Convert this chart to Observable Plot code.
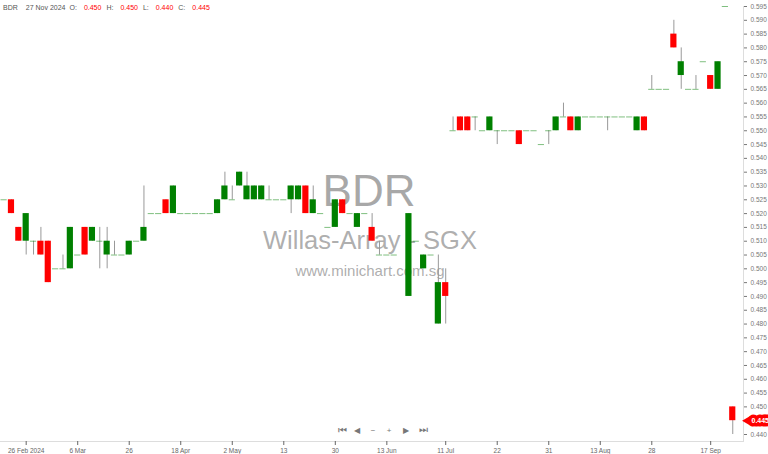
<!DOCTYPE html>
<html><head><meta charset="utf-8">
<script src="https://cdn.jsdelivr.net/npm/d3@7"></script>
<script src="https://cdn.jsdelivr.net/npm/@observablehq/plot@0.6"></script>
<style>
body{margin:0;background:#fff;}
#wrap{position:relative;width:768px;height:454px;overflow:hidden;font-family:"Liberation Sans",Arial,sans-serif;}
#hdr{position:absolute;left:3px;top:4px;font-size:7px;color:#555;white-space:nowrap;line-height:8px;}
#hdr span{margin-right:4px;}
#hdr .v{color:#f00;margin-right:5px;}
#hdr .k{margin-right:7px;}
#hdr .s{margin-right:8px;}
</style></head><body>
<div id="wrap"><div id="chart"></div><div id="hdr"></div></div>
<script>
// ---- data (bar index 0..99) ----
const symbol = "BDR";
const company = "Willas-Array - SGX";
const site = "www.minichart.com.sg";
const lastDate = "27 Nov 2024";
const opens = [
 .525,.525,.515,.510,.510,.510,.510,.500,.500,.500,
 .505,.515,.510,.510,.505,.505,.505,.505,.510,.510,
 .520,.520,.525,.520,.520,.520,.520,.520,.520,.520,
 .525,.525,.530,.525,.525,.525,.525,.525,.525,.525,
 .525,.530,.520,.520,.515,.515,.525,.520,.515,.520,
 .515,.505,.505,.505,null,.490,.510,.500,.505,.480,
 .495,.550,.555,.555,.555,.550,.550,.550,.550,.550,
 .550,.550,.550,.545,.550,.550,.555,.555,.550,.555,
 .555,.555,.555,.555,.555,.555,.550,.555,.565,.565,
 .565,.585,.570,.565,.565,.575,.570,.565,.595,.450];
const highs = [
 .525,.525,.515,.520,.510,.515,.510,.500,.505,.515,
 .505,.515,.515,.515,.515,.510,.505,.510,.510,.530,
 .520,.520,.525,.530,.520,.520,.520,.520,.520,.525,
 .535,.530,.535,.535,.530,.530,.530,.525,.525,.530,
 .530,.530,.530,.520,.515,.525,.525,.520,.520,.520,
 .520,.510,.505,.505,null,.520,.510,.505,.505,.505,
 .500,.555,.555,.555,.555,.550,.555,.550,.550,.550,
 .550,.550,.550,.545,.550,.555,.560,.555,.555,.555,
 .555,.555,.555,.555,.555,.555,.555,.555,.570,.565,
 .565,.590,.580,.565,.570,.575,.570,.575,.595,.450];
const lows = [
 .525,.520,.510,.505,.505,.505,.495,.500,.500,.500,
 .505,.505,.510,.500,.500,.505,.505,.505,.510,.510,
 .520,.520,.520,.520,.520,.520,.520,.520,.520,.520,
 .525,.525,.530,.525,.525,.525,.525,.525,.525,.520,
 .525,.520,.520,.520,.515,.515,.520,.520,.515,.520,
 .510,.505,.505,.505,null,.490,.510,.500,.505,.480,
 .480,.550,.550,.550,.550,.550,.550,.545,.550,.550,
 .545,.550,.550,.545,.545,.550,.555,.550,.550,.555,
 .555,.555,.550,.555,.555,.555,.550,.550,.565,.565,
 .565,.580,.565,.565,.565,.575,.565,.565,.595,.440];
const closes = [
 .525,.520,.510,.520,.510,.505,.495,.500,.500,.515,
 .505,.505,.515,.510,.510,.505,.505,.510,.510,.515,
 .520,.520,.520,.530,.520,.520,.520,.520,.520,.525,
 .530,.525,.535,.530,.530,.530,.525,.525,.525,.530,
 .530,.520,.525,.520,.515,.525,.520,.520,.520,.520,
 .510,.505,.505,.505,null,.520,.510,.505,.505,.495,
 .490,.550,.550,.550,.555,.550,.555,.550,.550,.550,
 .545,.550,.550,.545,.550,.555,.555,.550,.555,.555,
 .555,.555,.555,.555,.555,.555,.555,.550,.565,.565,
 .565,.580,.575,.565,.565,.575,.565,.575,.595,.445];
const xTickIdx = [3,10,17,24,31,38,45,52,60,67,74,81,88,96];
const xTickLabels = ["26 Feb 2024","6 Mar","26","18 Apr","2 May","13","30","13 Jun","11 Jul","22","31","13 Aug","28","17 Sep"];
const yTicks = [0.440,0.445,0.450,0.455,0.460,0.465,0.470,0.475,0.480,0.485,0.490,0.495,0.500,0.505,0.510,0.515,0.520,0.525,0.530,0.535,0.540,0.545,0.550,0.555,0.560,0.565,0.570,0.575,0.580,0.585,0.590,0.595];
const navIcons = ["\u23EE","\u25C0","\u2212","+","\u25B6","\u23ED"];

// ---- build ----
const bars = opens.map((o,i)=>({i,o,h:highs[i],l:lows[i],c:closes[i]})).filter(d=>d.o!=null);
const up = bars.filter(d=>d.c>d.o), down = bars.filter(d=>d.c<d.o), flat = bars.filter(d=>d.c===d.o);
const last = bars[bars.length-1];
const W = 0.42;
const GREEN = "#008000", RED = "#ff0000";
const font = "Liberation Sans, Arial, sans-serif";

const navDx = [-30,-15,1,17,34,51];
const navSize = [10,8,8,8,8,10];

const chart = Plot.plot({
  width: 768, height: 454,
  marginLeft: 0, marginRight: 25, marginTop: 6, marginBottom: 13,
  style: {fontFamily: font, background: "#fff", overflow: "visible"},
  x: {domain: [-0.49, 100.46], range: [0, 743]},
  y: {domain: [0.44, 0.595], range: [434, 6]},
  marks: [
    Plot.text([symbol], {frameAnchor:"middle", text: d=>d, dx:-3, dy:-18, lineAnchor:"bottom", fontSize:44, fill:"#999", fillOpacity:0.85}),
    Plot.text([company], {frameAnchor:"middle", text: d=>d, dx:-2, dy:25, lineAnchor:"bottom", fontSize:25.5, fill:"#999", fillOpacity:0.8}),
    Plot.text([site], {frameAnchor:"middle", text: d=>d, dx:-2, dy:52, lineAnchor:"bottom", fontSize:15, fill:"#999", fillOpacity:0.8}),
    Plot.frame({anchor:"bottom", stroke:"#ddd"}),
    Plot.frame({anchor:"right", stroke:"#ddd"}),
    Plot.axisX({ticks: xTickIdx, tickFormat: d=>xTickLabels[xTickIdx.indexOf(d)], tickSize:4, tickPadding:3, fontSize:6.5, color:"#666", label:null}),
    // the last-price tag covers the 0.445 label, as in the reference
    Plot.axisY({anchor:"right", ticks: yTicks, tickFormat: d=>Math.abs(d-last.c)<1e-9 ? "" : d.toFixed(3), tickSize:3, tickPadding:4, fontSize:6.5, color:"#777", label:null}),
    Plot.ruleX(bars, {x:"i", y1:"l", y2:"h", stroke:"#999", strokeWidth:1}),
    Plot.ruleY(flat, {y:"c", x1:d=>d.i-W, x2:d=>d.i+W, stroke:GREEN, strokeOpacity:0.5, strokeWidth:1}),
    Plot.rect(up, {x1:d=>d.i-W, x2:d=>d.i+W, y1:"o", y2:"c", fill:GREEN}),
    Plot.rect(down, {x1:d=>d.i-W, x2:d=>d.i+W, y1:"o", y2:"c", fill:RED}),
    ...navIcons.map((s,k)=>Plot.text([s], {frameAnchor:"bottom", text:d=>d, dx:navDx[k], dy:-9, fontSize:navSize[k], fill:"#777"})),
    Plot.dot([last], {y:"c", frameAnchor:"right", dx:4, symbol:"triangle", rotate:-90, r:3.5, fill:RED}),
    Plot.text([last], {y:"c", frameAnchor:"right", dx:8, textAnchor:"start", text:d=>d.c.toFixed(3), fontSize:7, fill:"#fff", stroke:RED, strokeWidth:7, strokeLinejoin:"round", paintOrder:"stroke", fontWeight:"bold"})
  ]
});
document.getElementById("chart").appendChild(chart);

const hdr = document.getElementById("hdr");
hdr.innerHTML = `<span class="s">${symbol}</span><span>${lastDate}</span><span class="k">O:</span><span class="v">${last.o.toFixed(3)}</span><span class="k">H:</span><span class="v">${last.h.toFixed(3)}</span><span class="k">L:</span><span class="v">${last.l.toFixed(3)}</span><span class="k">C:</span><span class="v">${last.c.toFixed(3)}</span>`;
</script>
</body></html>
